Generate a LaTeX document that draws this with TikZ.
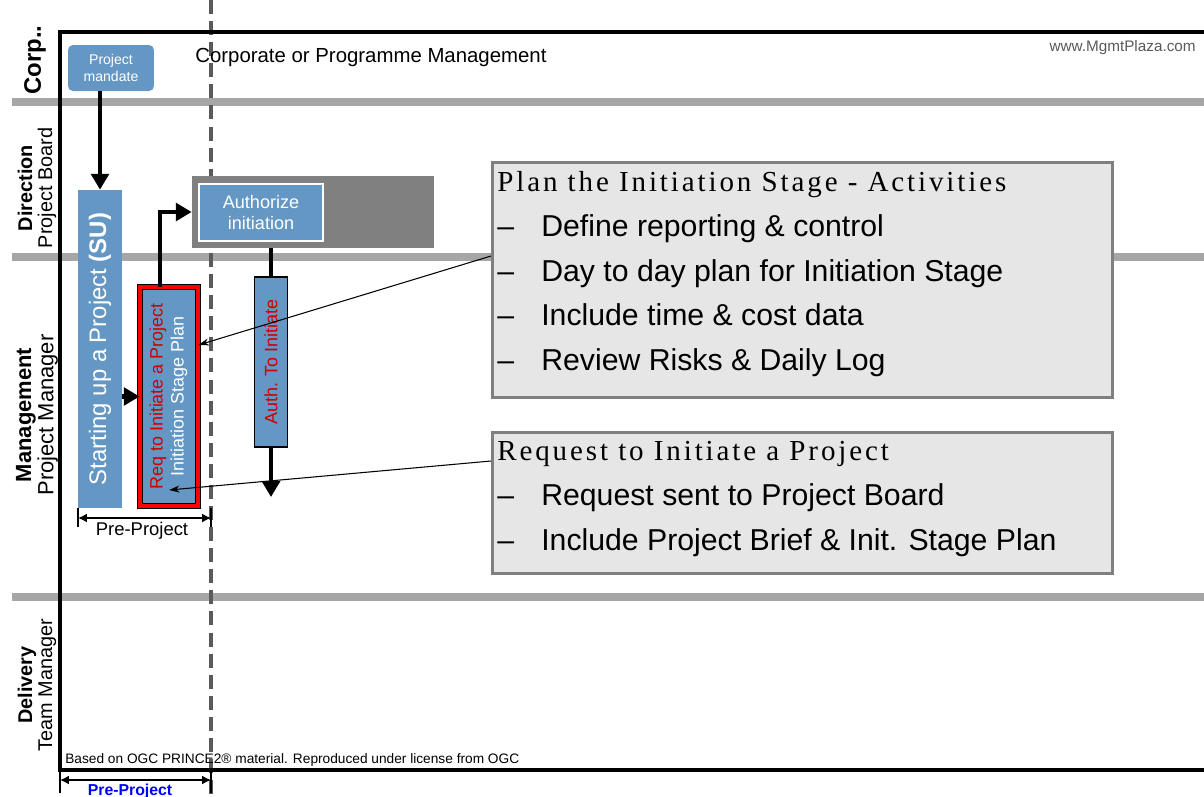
\documentclass[tikz,border=0pt]{standalone}
\usepackage{fontspec}
\setmainfont{Liberation Sans}
\newfontfamily\titlefont[LetterSpace=10]{Liberation Serif}
\usetikzlibrary{arrows.meta}

\definecolor{pblue}{RGB}{101,151,196}
\definecolor{lanegray}{RGB}{166,166,166}
\definecolor{boxgray}{RGB}{230,230,230}
\definecolor{edgegray}{RGB}{128,128,128}
\definecolor{dashgray}{RGB}{90,90,90}
\definecolor{webgray}{RGB}{89,89,89}
\definecolor{txtred}{RGB}{204,0,0}
\newcommand\dashitem[1]{\makebox[0.88cm][l]{–}#1}
\newcommand\fs[2]{\fontsize{#1}{#2}\selectfont}

\tikzset{
  lane/.style={lanegray, line width=4.5pt},
  frame/.style={black, line width=2.3pt},
  flow/.style={line width=2.3pt, -{Triangle[length=9pt,width=10pt]}},
  callout/.style={line width=0.6pt, -{Stealth[length=6pt,width=4pt]}},
  span/.style={line width=0.8pt, {Latex[length=5pt,width=5pt]}-{Latex[length=5pt,width=5pt]}},
  tick/.style={line width=1.6pt},
  procbox/.style={fill=pblue, text=white, inner sep=0pt, align=center},
  reqbox/.style={procbox, draw=black, double=red, double distance=2.8pt, line width=0.5pt},
  infobox/.style={fill=boxgray, draw=edgegray, line width=1.7pt, anchor=north west, minimum width=12.4cm, inner sep=0pt},
  infotext/.style={anchor=north west, inner sep=0pt, align=left, font=\fs{17.2}{25.5}},
  lanelabel/.style={rotate=90, align=center, inner sep=0pt, font=\fs{11.3}{11.3}}
}

\begin{document}
\begin{tikzpicture}[x=0.02cm, y=-0.02cm]
\useasboundingbox (0,0) rectangle (1204,796);

\foreach \y in {102,257,597}
  \draw[lane] (12,\y) -- (1204,\y);
\draw[dashgray, line width=2.2pt, dash pattern=on 8pt off 4pt] (211,0) -- (211,796);
\draw[frame] (1204,32) -- (60,32) -- (60,770) -- (1204,770);

% lanes
\node[lanelabel, font=\fs{13.6}{14}] (corp) at (35,60) {\textbf{Corp..}};
\node[lanelabel] (direction) at (37,188) {\textbf{Direction}\\Project Board};
\node[lanelabel, font=\fs{12.5}{11.3}] (management) at (37,415) {\textbf{Management}\\Project Manager};
\node[lanelabel] (delivery) at (37,685) {\textbf{Delivery}\\Team Manager};

\node[anchor=west, inner sep=0pt, font=\fs{11.6}{12}] (corptext) at (195,57) {Corporate or Programme Management};
\node[anchor=east, inner sep=0pt, text=webgray, font=\fs{8.7}{10}] (web) at (1196,48) {www.MgmtPlaza.com};
\node[anchor=base west, inner sep=0pt, font=\fs{7.8}{9}] (credit) at (65,763) {Based on OGC PRINCE2® material. Reproduced under license from OGC};

% processes
\node[procbox, rounded corners=0.1cm, minimum width=1.72cm, minimum height=0.92cm, font=\fs{8}{9.5}] (mandate) at (111,68) {Project\\mandate};
\node[procbox, minimum width=0.88cm, minimum height=6.36cm] (su) at (100,349) {\rotatebox{90}{\fs{13.6}{14}Starting up a Project \textbf{(SU)}}};
\node[reqbox, minimum width=1.16cm, minimum height=4.38cm] (req) at (169,396.5)
  {\rotatebox{90}{\fs{10.2}{11.9}\begin{tabular}{@{}c@{}}\textcolor{txtred}{Req to Initiate a Project}\\Initiation Stage Plan\end{tabular}}};
\node[fill=edgegray, minimum width=4.84cm, minimum height=1.44cm, inner sep=0pt] (auth) at (313,212) {};
\node[procbox, draw=white, line width=1.1pt, minimum width=2.48cm, minimum height=1.14cm, font=\fs{10.3}{12.3}] (authin) at (261,212.5) {Authorize\\initiation};
\node[procbox, draw=black, line width=1.1pt, minimum width=0.66cm, minimum height=3.4cm] (authto) at (271,362) {\rotatebox{90}{\fs{10.2}{12}\textcolor{txtred}{Auth. To Initiate}}};
\coordinate (authout) at (271,497);

\draw[flow] (mandate.south -| su.north) -- (su.north);
\draw[flow] (su.east |- req.west) -- (req.west);
\draw[flow] ([xshift=-0.18cm]req.north) |- (auth.west);
\draw[line width=2.3pt] (auth.south -| authto.north) -- (authto.north);
\draw[flow] (authto.south) -- (authout);

% info boxes
\node[infobox, minimum height=4.7cm] (plan) at (491,161) {};
\node[infotext] (plantext) at (497,171) {{\titlefont\fs{16.5}{25.5}Plan the Initiation Stage - Activities}\\
  \dashitem{Define reporting \& control}\\
  \dashitem{Day to day plan for Initiation Stage}\\
  \dashitem{Include time \& cost data}\\
  \dashitem{Review Risks \& Daily Log}};
\node[infobox, minimum height=2.82cm] (request) at (491,431) {};
\node[infotext] (requesttext) at (497,441) {{\titlefont\fs{16.5}{25.5}Request to Initiate a Project}\\
  \dashitem{Request sent to Project Board}\\
  \dashitem{Include Project Brief \& Init. Stage Plan}};

\coordinate (plantip) at (491,256);
\coordinate (requesttip) at (491,461);
\draw[callout] (plantip) -- (req.east |- 0,345);
\draw[callout] (requesttip) -- (req.center |- 0,490);

% pre-project spans
\draw[tick] (78,508) -- (78,527);
\draw[tick] (211,508) -- (211,527);
\draw[span] (78,518) -- (211,518);
\node[font=\fs{10.5}{12}, inner sep=0pt] (preproj) at (142,531) {Pre-Project};
\draw[tick] (60,770) -- (60,793);
\draw[tick] (211,770) -- (211,793);
\draw[span] (60,780) -- (211,780);
\node[anchor=base, inner sep=0pt, text=blue, font=\fs{9}{10}\bfseries] (preprojbottom) at (130,795) {Pre-Project};
\end{tikzpicture}
\end{document}
